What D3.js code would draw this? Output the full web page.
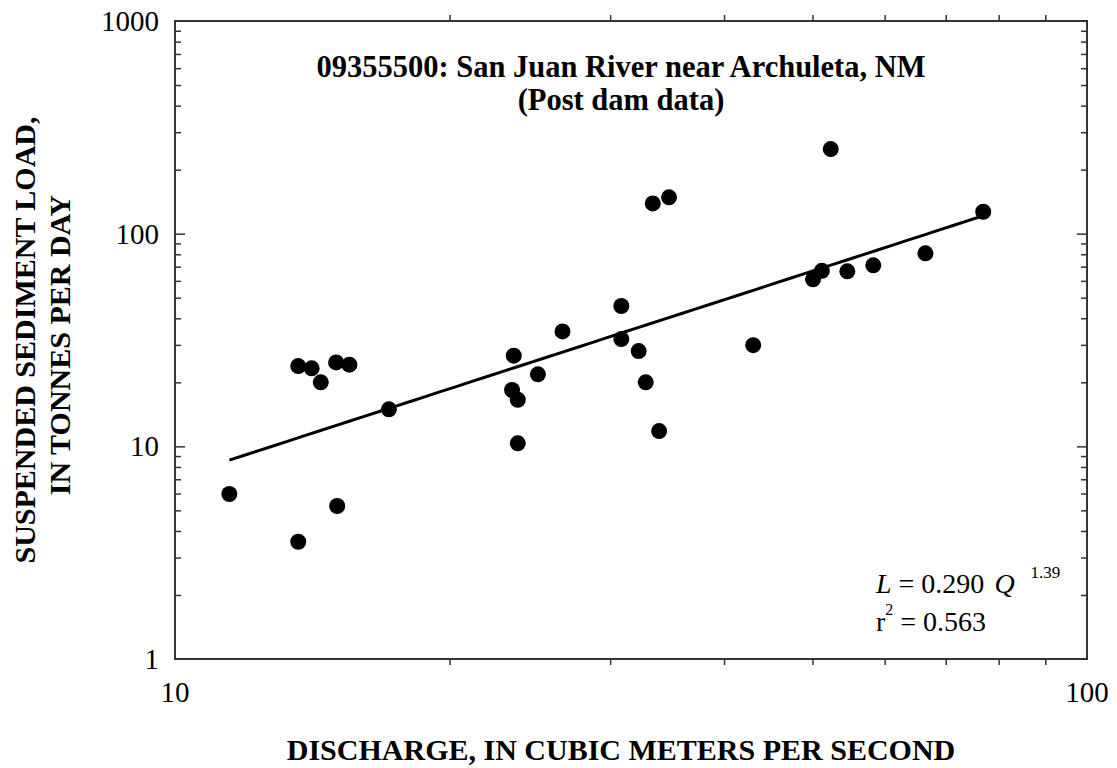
<!DOCTYPE html>
<html>
<head>
<meta charset="utf-8">
<script src="https://cdn.jsdelivr.net/npm/d3@7"></script>
<style>
  html, body { margin: 0; padding: 0; background: #fff; }
  svg { display: block; }
  text { font-family: "Liberation Serif", "Times New Roman", serif; fill: #000; }
</style>
</head>
<body>
<svg id="chart" width="1117" height="768"></svg>
<script>
// Discharge (m^3/s) and suspended sediment load (t/day), post-dam samples
const discharge = [11.47, 13.65, 13.65, 14.12, 14.45, 15.02, 15.06, 15.53, 17.16,
  23.42, 23.52, 23.76, 23.76, 25.0, 26.6, 30.86, 30.86, 32.24, 32.82, 33.41,
  33.95, 34.81, 43.05, 50.07, 51.2, 52.36, 54.6, 58.3, 66.5, 76.95];
const load = [5.97, 3.56, 23.85, 23.26, 20.0, 24.8, 5.24, 24.2, 14.93,
  18.4, 26.7, 16.56, 10.33, 21.8, 34.7, 45.7, 31.95, 28.06, 20.0, 138.8,
  11.8, 148.2, 29.9, 61.0, 66.9, 249.8, 66.5, 71.0, 80.8, 126.8];

// Power-law fit L = a * Q^b
const fitCoef = 0.290;
const fitExp = 1.39;
const rSquared = "0.563";

const xTickValues = [10, 100];
const yTickValues = [1, 10, 100, 1000];

const titleLines = ["09355500: San Juan River near Archuleta, NM", "(Post dam data)"];
const xLabel = "DISCHARGE, IN CUBIC METERS PER SECOND";
const yLabelLines = ["SUSPENDED SEDIMENT LOAD,", "IN TONNES PER DAY"];

const svg = d3.select("#chart");
const plot = { left: 175, right: 1087, top: 21, bottom: 659 };
const textCenter = 621;

const x = d3.scaleLog().domain([10, 100]).range([plot.left, plot.right]);
const y = d3.scaleLog().domain([1, 1000]).range([plot.bottom, plot.top]);

const minorX = d3.range(2, 10).map(d => d * 10);
const minorY = [];
[1, 10, 100].forEach(dec => d3.range(2, 10).forEach(m => minorY.push(m * dec)));

const axisColor = "#333";
const majorLen = 10, minorLen = 6;

// Frame ticks, all pointing inward
function inward(axisGen, vals, len, pos, cls) {
  const g = svg.append("g").attr("class", cls).attr("transform", pos);
  g.call(axisGen.tickValues(vals).tickSize(len).tickFormat(""));
  g.select(".domain").remove();
  g.selectAll("line").attr("stroke", axisColor).attr("stroke-width", 1.5);
  return g;
}
const yMajorInner = yTickValues.filter(v => v > 1 && v < 1000);
inward(d3.axisTop(x), minorX, -minorLen, `translate(0,${plot.bottom})`, "xb");
inward(d3.axisBottom(x), minorX, -minorLen, `translate(0,${plot.top})`, "xt");
inward(d3.axisRight(y), minorY, -minorLen, `translate(${plot.right},0)`, "yr");
inward(d3.axisLeft(y), minorY, -minorLen, `translate(${plot.left},0)`, "yl");
inward(d3.axisRight(y), yMajorInner, -majorLen, `translate(${plot.right},0)`, "yrM");
inward(d3.axisLeft(y), yMajorInner, -majorLen, `translate(${plot.left},0)`, "ylM");

// Frame
svg.append("rect")
  .attr("x", plot.left).attr("y", plot.top)
  .attr("width", plot.right - plot.left).attr("height", plot.bottom - plot.top)
  .attr("fill", "none").attr("stroke", axisColor).attr("stroke-width", 2);

// Tick labels
svg.append("g").selectAll("text").data(yTickValues).join("text")
  .attr("x", plot.left - 16).attr("y", d => y(d))
  .attr("dy", "0.35em").attr("text-anchor", "end")
  .attr("font-size", 29).text(d => d);

svg.append("g").selectAll("text").data(xTickValues).join("text")
  .attr("x", d => x(d)).attr("y", plot.bottom + 43)
  .attr("text-anchor", "middle")
  .attr("font-size", 29).text(d => d);

// Regression line across the sampled discharge range
const qExtent = d3.extent(discharge);
const fitPts = d3.range(0, 51).map(i => {
  const q = Math.exp(Math.log(qExtent[0]) + i / 50 * (Math.log(qExtent[1]) - Math.log(qExtent[0])));
  return [q, fitCoef * Math.pow(q, fitExp)];
});
svg.append("path")
  .datum(fitPts)
  .attr("fill", "none").attr("stroke", "#000").attr("stroke-width", 3)
  .attr("d", d3.line().x(d => x(d[0])).y(d => y(d[1])));

// Sample points
svg.append("g").selectAll("circle").data(discharge.map((q, i) => [q, load[i]])).join("circle")
  .attr("cx", d => x(d[0])).attr("cy", d => y(d[1]))
  .attr("r", 8).attr("fill", "#000");

// Title
svg.append("g").selectAll("text").data(titleLines).join("text")
  .attr("x", textCenter).attr("y", (d, i) => 77 + i * 33)
  .attr("text-anchor", "middle").attr("font-weight", "bold")
  .attr("font-size", 30.5).text(d => d);

// Axis titles
svg.append("text")
  .attr("x", textCenter).attr("y", 760)
  .attr("text-anchor", "middle").attr("font-weight", "bold")
  .attr("font-size", 30).text(xLabel);

svg.append("g").selectAll("text").data(yLabelLines).join("text")
  .attr("transform", (d, i) => `translate(${35 + i * 35},${340 + i * 5}) rotate(-90)`)
  .attr("text-anchor", "middle").attr("font-weight", "bold")
  .attr("font-size", 30).text(d => d);

// Fit equation
const eq = svg.append("text").attr("x", 876).attr("y", 593).attr("font-size", 28);
eq.append("tspan").attr("font-style", "italic").text("L");
eq.append("tspan").text(` = ${fitCoef.toFixed(3)} `);
eq.append("tspan").attr("dx", 3).attr("font-style", "italic").text("Q");
eq.append("tspan").attr("dx", 16).attr("dy", -15).attr("font-size", 17).text(String(fitExp));

const rt = svg.append("text").attr("x", 876).attr("y", 631).attr("font-size", 28);
rt.append("tspan").text("r");
rt.append("tspan").attr("dy", -16).attr("font-size", 16).text("2");
rt.append("tspan").attr("dy", 16).text(` = ${rSquared}`);
</script>
</body>
</html>
